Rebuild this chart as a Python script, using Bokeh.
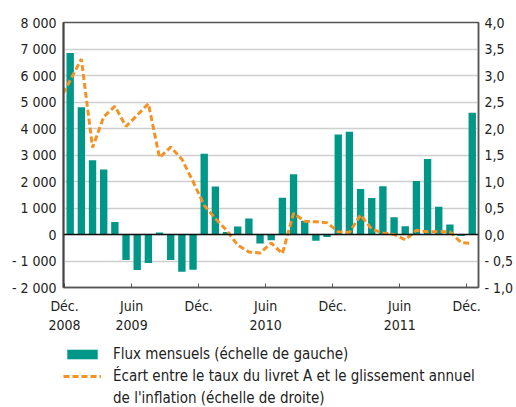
from bokeh.plotting import figure
from bokeh.layouts import column
from bokeh.models import (Range1d, LinearAxis, FixedTicker, Legend, LegendItem, Span,
                          ColumnDataSource)
from bokeh.embed import file_html
from bokeh.resources import INLINE

# ---- data ----
months = ["Déc. 2008", "Janv. 2009", "Févr. 2009", "Mars 2009", "Avr. 2009", "Mai 2009",
          "Juin 2009", "Juil. 2009", "Août 2009", "Sept. 2009", "Oct. 2009", "Nov. 2009",
          "Déc. 2009", "Janv. 2010", "Févr. 2010", "Mars 2010", "Avr. 2010", "Mai 2010",
          "Juin 2010", "Juil. 2010", "Août 2010", "Sept. 2010", "Oct. 2010", "Nov. 2010",
          "Déc. 2010", "Janv. 2011", "Févr. 2011", "Mars 2011", "Avr. 2011", "Mai 2011",
          "Juin 2011", "Juil. 2011", "Août 2011", "Sept. 2011", "Oct. 2011", "Nov. 2011",
          "Déc. 2011"]
flux = [6850, 4800, 2800, 2450, 470, -960, -1340, -1075, 80, -960, -1410, -1330,
        3050, 1810, 95, 300, 600, -340, -215, 1390, 2270, 520, -235, -90,
        3770, 3875, 1715, 1375, 1820, 650, 315, 2020, 2850, 1050, 380, -60, 4590]
# spread line: starts with Nov. 2008, then same months as flux
ecart_months = ["Nov. 2008"] + months
ecart = [2.51, 2.91, 3.31, 1.64, 2.22, 2.42, 2.04, 2.25, 2.47, 1.45, 1.65, 1.42,
         1.0, 0.55, 0.3, 0.08, -0.2, -0.33, -0.35, -0.16, -0.36, 0.40, 0.25, 0.24,
         0.22, 0.05, 0.04, 0.37, 0.10, 0.03, 0.0, -0.10, 0.08, 0.05, 0.05, 0.05,
         -0.15, -0.17]

x_ticks = [0, 6, 12, 18, 24, 30, 36]
x_tick_labels = ["Déc.\n2008", "Juin\n2009", "Déc.", "Juin\n2010", "Déc.", "Juin\n2011", "Déc."]
left_ticks = [-2000, -1000, 0, 1000, 2000, 3000, 4000, 5000, 6000, 7000, 8000]
left_labels = ["- 2 000", "- 1 000", "0", "1 000", "2 000", "3 000", "4 000", "5 000",
               "6 000", "7 000", "8 000"]
right_ticks = [-1.0, -0.5, 0.0, 0.5, 1.0, 1.5, 2.0, 2.5, 3.0, 3.5, 4.0]
right_labels = ["- 1,0", "- 0,5", "0,0", "0,5", "1,0", "1,5", "2,0", "2,5", "3,0", "3,5", "4,0"]

legend_bar = "Flux mensuels (échelle de gauche)"
legend_line_1 = "Écart entre le taux du livret A et le glissement annuel"
legend_line_2 = "de l'inflation (échelle de droite)"

FONT = "DejaVu Sans Condensed"
TEAL = "#009688"
ORANGE = "#F39325"

bar_src = ColumnDataSource(dict(x=[i + 0.5 for i in range(len(flux))], y=flux, m=months))
line_src = ColumnDataSource(dict(x=[i - 0.5 for i in range(len(ecart))], y=ecart, m=ecart_months))

p = figure(width=516, height=337, output_backend="svg", toolbar_location=None,
           x_range=Range1d(-0.1, 37.06), y_range=Range1d(-2000, 8000),
           min_border_left=63, min_border_right=36, min_border_top=22, min_border_bottom=50)
p.background_fill_color = "white"
p.border_fill_color = "white"
p.outline_line_color = "#555555"
p.outline_line_width = 1.5

p.extra_y_ranges = {"r": Range1d(-1.0, 4.0)}

p.xgrid.visible = False
p.ygrid.ticker = FixedTicker(ticks=left_ticks)
p.ygrid.grid_line_color = "#cfcfcf"
p.ygrid.grid_line_width = 1.5

bars = p.vbar(x="x", top="y", bottom=0, width=0.66, source=bar_src,
              fill_color=TEAL, line_color=None)
p.add_layout(Span(location=0, dimension="width", line_color="#111111", line_width=1.5))
line = p.line(x="x", y="y", source=line_src, y_range_name="r", line_color=ORANGE,
              line_width=3, line_dash="6 3")

# axes
xa = p.xaxis[0]
xa.ticker = FixedTicker(ticks=x_ticks)
xa.major_label_overrides = {t: l for t, l in zip(x_ticks, x_tick_labels)}
xa.major_tick_in = 4
xa.major_tick_out = 0
xa.minor_tick_line_color = None
xa.major_tick_line_color = "#555555"
xa.axis_line_color = "#555555"
xa.axis_line_width = 1.5
xa.major_label_standoff = 10

ya = p.yaxis[0]
ya.ticker = FixedTicker(ticks=left_ticks)
ya.major_label_overrides = {t: l for t, l in zip(left_ticks, left_labels)}
ya.major_tick_in = 0
ya.major_tick_out = 0
ya.minor_tick_line_color = None
ya.axis_line_color = "#444444"
ya.axis_line_width = 2
ya.major_label_standoff = 7

ra = LinearAxis(y_range_name="r", ticker=FixedTicker(ticks=right_ticks))
ra.major_label_overrides = {t: l for t, l in zip(right_ticks, right_labels)}
ra.major_tick_in = 0
ra.major_tick_out = 0
ra.minor_tick_line_color = None
ra.axis_line_color = "#555555"
ra.axis_line_width = 1.5
ra.major_label_standoff = 6
p.add_layout(ra, "right")

for ax in (xa, ya, ra):
    ax.major_label_text_font = FONT
    ax.major_label_text_font_size = "14px"
    ax.major_label_text_color = "#222222"

# ---- legend panel (separate figure below the chart) ----
# Its renderers are hidden, so they only show as legend swatches.
lg = figure(width=516, height=70, output_backend="svg", toolbar_location=None,
            x_range=Range1d(37.5, 38.5), y_range=Range1d(-2000, 8000),
            x_axis_type=None, y_axis_type=None, min_border=0)
lg.outline_line_color = None
lg.xgrid.visible = False
lg.ygrid.visible = False
lg_bars = lg.vbar(x="x", top="y", bottom=0, width=0.66, source=bar_src,
                  fill_color=TEAL, line_color=None, visible=False)
lg_line = lg.line(x="x", y="y", source=line_src, line_color=ORANGE,
                  line_width=3, line_dash="6 3", visible=False)
lg_none = lg.line(x="x", y="y", source=ColumnDataSource(dict(x=[], y=[])),
                  line_color=None, line_alpha=0)
legend = Legend(items=[LegendItem(label=legend_bar, renderers=[lg_bars]),
                       LegendItem(label=legend_line_1, renderers=[lg_line]),
                       LegendItem(label=legend_line_2, renderers=[lg_none])],
                location=(0, 0), orientation="vertical",
                border_line_color=None, background_fill_alpha=0,
                glyph_width=38, glyph_height=12, label_standoff=12,
                spacing=4, padding=0, margin=0,
                label_text_font=FONT, label_text_font_size="15px",
                label_text_color="#222222")
lg.add_layout(legend, "center")

layout = column(p, lg, spacing=0)
open("out.html", "w").write(file_html(layout, INLINE))
